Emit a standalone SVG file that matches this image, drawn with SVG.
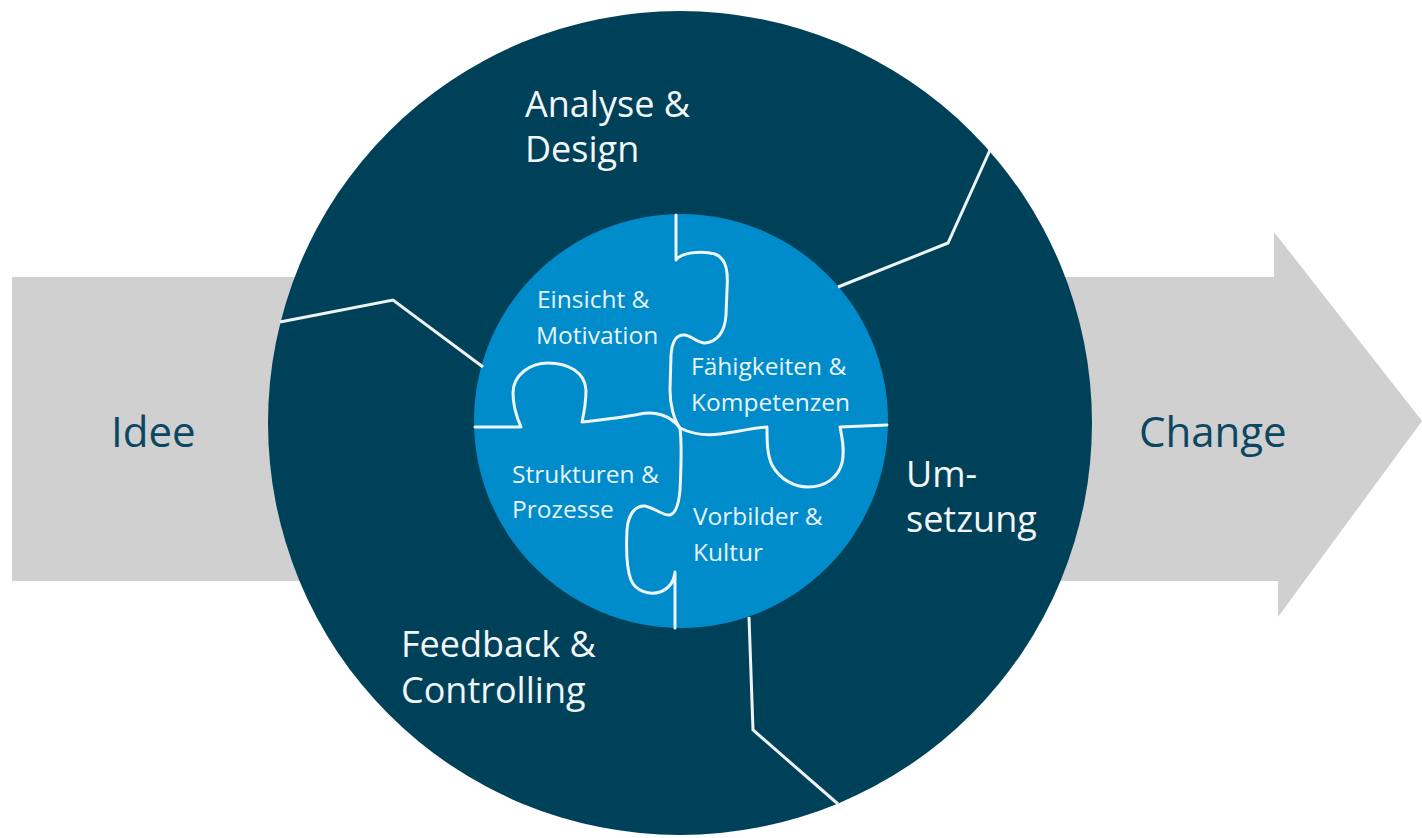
<svg xmlns="http://www.w3.org/2000/svg" width="1422" height="838" viewBox="0 0 1422 838">
<style>
.arrowtxt{font-family:"Open Sans","Liberation Sans",sans-serif;font-size:42px;fill:#0b4763}
.outer{font-family:"Open Sans","Liberation Sans",sans-serif;font-size:36px;fill:#f2f6f8}
.inner{font-family:"Open Sans","Liberation Sans",sans-serif;font-size:24.5px;fill:#e8f4fb}
.wl{fill:none;stroke:#eef3f5;stroke-width:3;stroke-linejoin:miter}
.pz{fill:none;stroke:#eef6fb;stroke-width:3;stroke-linejoin:round;stroke-linecap:round}
</style>
<rect width="1422" height="838" fill="#ffffff"/>
<g id="arrow">
<polygon points="12,277 1274,277 1274,232 1422,421 1278,617 1278,581 12,581" fill="#d0d0d0"/>
<text class="arrowtxt" x="111" y="447">Idee</text>
<text class="arrowtxt" x="1139" y="447">Change</text>
</g>
<g id="outer-circle">
<circle cx="680" cy="423" r="412" fill="#00415a"/>
</g>
<g id="inner-circle">
<circle cx="681" cy="421" r="207" fill="#008bca"/>
</g>
<g id="connectors">
<polyline class="wl" points="838,287 948,243 990,150"/>
<polyline class="wl" points="280,322 393,300 483,367"/>
<polyline class="wl" points="749,617 753,730 838,804"/>
<path class="pz" d="M676 215 L676 260 C681 253 700 250 715 254 C728 259 728 275 727 290 L726 315 C725 332 717 342 705 343 C697 343 692 336 685 335 C676 334 672 342 671 355 L670 390 C670 405 674 420 680 428"/>
<path class="pz" d="M475 427 L521 427 C517 418 513 405 513 393 C513 375 530 363 548 363 C568 363 585 372 586 390 C586 402 584 413 582 422 C600 420 620 418 640 414 C655 411 670 415 680 428"/>
<path class="pz" d="M680 428 C690 433 705 436 720 434 C740 431 755 428 767 427 C767 440 767 455 772 465 C780 480 795 487 808 487 C825 487 838 478 842 463 C845 450 842 437 840 427 L887 425"/>
<path class="pz" d="M680 428 C682 445 681 470 680 490 C679 502 676 513 670 515 C663 516 655 508 645 506 C635 505 628 515 627 530 C626 550 627 570 631 580 C636 592 650 595 660 592 C668 589 674 582 675 572 L675 628"/>
</g>
<g id="analyse">
<text class="outer" x="525" y="117">Analyse &amp;</text>
<text class="outer" x="525" y="162">Design</text>
</g>
<g id="umsetzung">
<text class="outer" x="906" y="487">Um-</text>
<text class="outer" x="906" y="532">setzung</text>
</g>
<g id="feedback">
<text class="outer" x="401" y="657">Feedback &amp;</text>
<text class="outer" x="401" y="703">Controlling</text>
</g>
<g id="einsicht">
<text class="inner" x="537" y="308">Einsicht &amp;</text>
<text class="inner" x="536" y="344">Motivation</text>
</g>
<g id="faehigkeiten">
<text class="inner" x="691" y="375">Fähigkeiten &amp;</text>
<text class="inner" x="691" y="411">Kompetenzen</text>
</g>
<g id="strukturen">
<text class="inner" x="512" y="483">Strukturen &amp;</text>
<text class="inner" x="512" y="518">Prozesse</text>
</g>
<g id="vorbilder">
<text class="inner" x="693" y="525">Vorbilder &amp;</text>
<text class="inner" x="693" y="561">Kultur</text>
</g>
</svg>
